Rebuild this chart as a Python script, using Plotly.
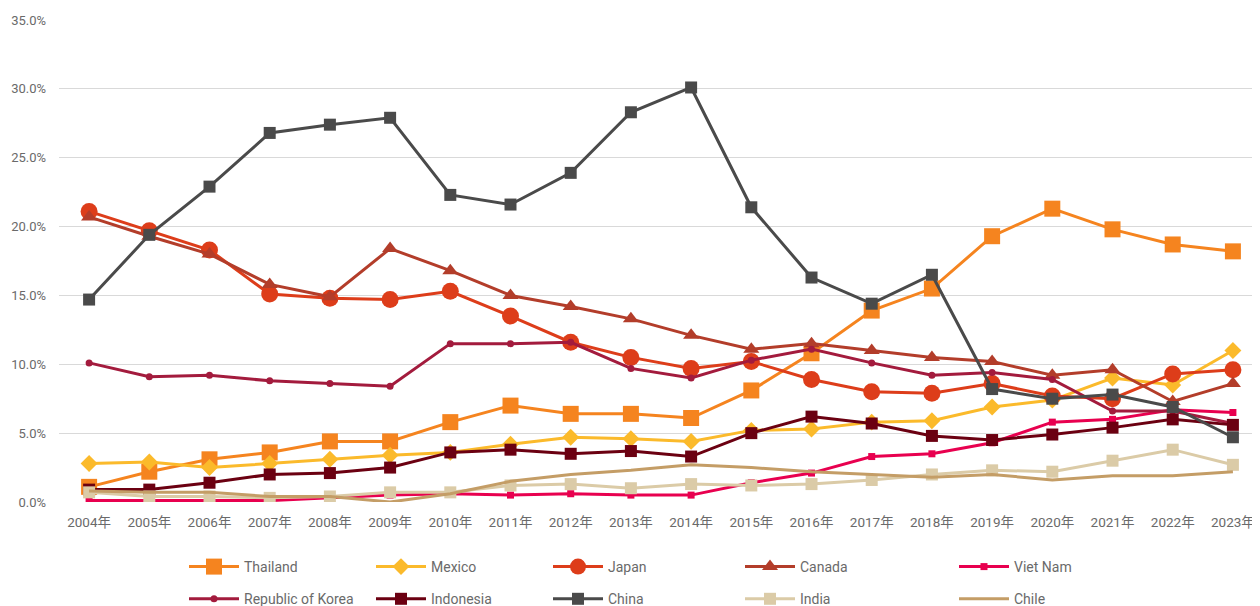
import plotly.graph_objects as go

years = [f"{y}年" for y in range(2004, 2024)]

thailand = [1.1, 2.2, 3.1, 3.6, 4.4, 4.4, 5.8, 7.0, 6.4, 6.4, 6.1, 8.1, 10.8, 13.9, 15.5, 19.3, 21.3, 19.8, 18.7, 18.2]
mexico = [2.8, 2.9, 2.5, 2.8, 3.1, 3.4, 3.6, 4.2, 4.7, 4.6, 4.4, 5.2, 5.3, 5.8, 5.9, 6.9, 7.4, 9.0, 8.5, 11.0]
japan = [21.1, 19.7, 18.3, 15.1, 14.8, 14.7, 15.3, 13.5, 11.6, 10.5, 9.7, 10.2, 8.9, 8.0, 7.9, 8.6, 7.7, 7.5, 9.3, 9.6]
canada = [20.7, 19.3, 18.0, 15.8, 14.9, 18.4, 16.8, 15.0, 14.2, 13.3, 12.1, 11.1, 11.5, 11.0, 10.5, 10.2, 9.2, 9.6, 7.3, 8.6]
vietnam = [0.1, 0.1, 0.1, 0.1, 0.3, 0.5, 0.6, 0.5, 0.6, 0.5, 0.5, 1.4, 2.1, 3.3, 3.5, 4.3, 5.8, 6.0, 6.7, 6.5]
korea = [10.1, 9.1, 9.2, 8.8, 8.6, 8.4, 11.5, 11.5, 11.6, 9.7, 9.0, 10.3, 11.1, 10.1, 9.2, 9.4, 8.9, 6.6, 6.6, 5.7]
indonesia = [0.9, 0.9, 1.4, 2.0, 2.1, 2.5, 3.6, 3.8, 3.5, 3.7, 3.3, 5.0, 6.2, 5.7, 4.8, 4.5, 4.9, 5.4, 6.0, 5.6]
china = [14.7, 19.4, 22.9, 26.8, 27.4, 27.9, 22.3, 21.6, 23.9, 28.3, 30.1, 21.4, 16.3, 14.4, 16.5, 8.2, 7.5, 7.8, 6.9, 4.7]
india = [0.7, 0.4, 0.4, 0.3, 0.4, 0.7, 0.7, 1.2, 1.3, 1.0, 1.3, 1.2, 1.3, 1.6, 2.0, 2.3, 2.2, 3.0, 3.8, 2.7]
chile = [0.8, 0.7, 0.7, 0.4, 0.4, 0.0, 0.6, 1.5, 2.0, 2.3, 2.7, 2.5, 2.2, 2.0, 1.8, 2.0, 1.6, 1.9, 1.9, 2.2]

y_ticks = [0, 5, 10, 15, 20, 25, 30, 35]
y_tick_labels = [f"{v:.1f}%" for v in y_ticks]

# name, values, colour, marker symbol, marker size, legend column
series = [
    ("Thailand", thailand, "#F5841F", "square", 16, 0),
    ("Mexico", mexico, "#FBBA2B", "diamond", 13, 1),
    ("Japan", japan, "#DD3D1A", "circle", 17, 2),
    ("Canada", canada, "#B33D2A", "triangle-up", 14, 3),
    ("Viet Nam", vietnam, "#E8004F", "square", 7, 4),
    ("Republic of Korea", korea, "#A31B3D", "circle", 7, 0),
    ("Indonesia", indonesia, "#6B0011", "square", 12, 1),
    ("China", china, "#4A4A4A", "square", 12, 2),
    ("India", india, "#DBCBA7", "square", 12, 3),
    ("Chile", chile, "#C49D66", None, 0, 4),
]

FONT = "Roboto, Noto Sans CJK SC, sans-serif"
TXT = "#6A6A6A"
legend_names = ["legend", "legend2", "legend3", "legend4", "legend5"]
legend_text_x = [244, 431, 608, 800, 1014]

W, H = 1252, 598
L, R, T, B = 51, 0, 12, 104
plot_w = W - L - R

fig = go.Figure()
for i, (name, vals, color, sym, size, col) in enumerate(series):
    kw = dict(x=years, y=vals, name=name, legend=legend_names[col],
              legendgroup=f"g{i}", line=dict(color=color, width=3))
    if sym is None:
        fig.add_trace(go.Scatter(mode="lines", **kw))
    else:
        fig.add_trace(go.Scatter(mode="lines+markers",
                                 marker=dict(symbol=sym, size=size, color=color,
                                             line=dict(width=0)), **kw))

legend_layout = {}
for name, tx in zip(legend_names, legend_text_x):
    legend_layout[name] = dict(
        orientation="v", xref="paper", yref="container",
        x=(tx - 68 - L) / plot_w, xanchor="left", y=1 - 543 / H, yanchor="top",
        itemwidth=50, tracegroupgap=11, bgcolor="rgba(0,0,0,0)",
        font=dict(family=FONT, size=14, color=TXT))

fig.update_layout(
    width=W, height=H,
    margin=dict(l=L, r=R, t=T, b=B),
    paper_bgcolor="white", plot_bgcolor="white",
    font=dict(family=FONT, size=14, color=TXT),
    showlegend=True,
    xaxis=dict(type="category", range=[-0.5, 19.45], showgrid=False, showline=False,
               ticks="", zeroline=False, automargin=False, ticklabelstandoff=10,
               tickfont=dict(size=13.5, color=TXT)),
    yaxis=dict(range=[0, 35], tickvals=y_ticks, ticktext=y_tick_labels,
               showgrid=True, gridcolor="#D9D9D9", gridwidth=1.3, zeroline=False,
               showline=False, ticks="", ticklabelstandoff=12, automargin=False,
               tickfont=dict(size=13, color=TXT)),
    **legend_layout,
)

fig.write_html("out.html")
